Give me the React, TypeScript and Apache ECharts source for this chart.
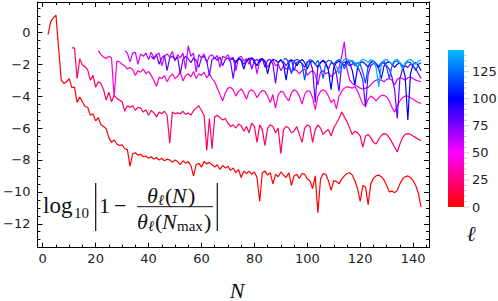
import React, { useEffect, useRef } from "react";
import * as echarts from "echarts";

// ---- data ----
const ELL_VALUES = [0, 20, 40, 60, 80, 100, 120, 140];
const START_N = [2, 11, 21, 31, 41, 71, 91, 111];

const L0 = [-0.15,0.65,0.9,1.08,-1.0,-3.0,-3.2,-3.1,-2.9,-3.45,-3.45,-4.4,-4.05,-4.35,-4.65,-4.7,-5.2,-5.1,-5.55,-5.35,-5.8,-5.9,-6.05,
-6.6,-6.9,-6.75,-7.0,-7.1,-7.05,-7.3,-7.35,-8.4,-7.6,-7.55,-7.7,-7.65,-7.8,-7.75,-7.9,-7.8,-7.95,-7.85,-8.0,-7.9,-8.05,-7.95,-8.0,-8.15,-8.0,-8.1,
-8.3,-8.05,-8.2,-8.1,-8.35,-9.0,-8.3,-8.2,-8.45,-8.1,-8.25,-8.15,-8.3,-8.45,-8.3,-8.6,-8.35,-8.5,-8.4,-8.65,-8.5,-8.8,-8.6,-9.1,-8.7,-8.85,-8.7,-8.9,-8.75,-9.1,
-10.6,-8.8,-8.7,-8.95,-8.8,-9.5,-8.9,-9.05,-8.75,-8.95,-9.1,-8.8,-9.6,-9.0,-8.9,-9.15,-8.85,-8.9,-9.2,-9.3,-9.8,-9.0,-11.3,-9.2,-8.85,-8.9,-9.3,-9.9,-9.3,-9.35,
-9.5,-9.2,-9.0,-8.85,-8.8,-8.95,-9.3,-9.8,-10.6,-9.6,-9.7,-10.8,-9.5,-9.15,-9.0,-8.95,-9.05,-9.25,-9.6,-10.0,-9.95,-10.05,-9.9,-9.5,-9.2,-9.05,-9.0,-9.1,-9.3,-9.6,
-10.1,-10.95];

const L20 = [-0.97,-0.97,-2.9,-1.65,-2.05,-2.15,-2.35,-3.0,-2.7,-3.45,-3.1,-3.2,-3.6,-4.25,-3.75,-4.35,-3.95,-4.15,-4.25,-4.35,
-4.95,-4.6,-4.7,-4.6,-4.9,-4.7,-4.75,-5.0,-4.85,-5.2,-4.9,-5.05,-5.3,-5.0,-5.1,-4.95,-5.2,-6.95,-5.0,-5.1,
-5.05,-5.1,-4.95,-5.15,-5.05,-5.2,-4.9,-4.75,-4.6,-4.9,-5.2,-7.4,-5.4,-7.3,-5.3,-5.2,-5.35,-5.5,-5.4,-5.7,
-5.9,-5.8,-6.0,-5.75,-5.85,-6.2,-5.9,-6.3,-5.7,-5.9,-6.9,-5.8,-6.1,-7.1,-6.0,-5.8,-5.9,-6.3,-6.0,-7.6,
-6.1,-5.9,-6.0,-6.3,-6.2,-5.9,-6.4,-6.9,-6.0,-5.8,-5.9,-6.9,-6.1,-5.8,-6.0,-6.4,-6.2,-6.1,-6.5,-6.0,
-5.7,-5.4,-5.0,-5.3,-5.6,-6.0,-6.4,-6.2,-6.3,-6.5,-7.2,-6.5,-6.4,-6.6,-6.9,-7.0,-6.7,-6.45,-6.35,-6.4,
-6.6,-6.9,-7.2,-7.5,-7.0,-6.6,-6.4,-6.35,-6.4,-6.5,-6.6,-6.7,-6.8];

const L40 = [-1.15,-1.4,-1.55,-1.65,-1.5,-1.6,-4.05,-1.8,-1.85,-2.0,-2.1,-2.3,-2.2,-2.35,-2.7,-2.4,-2.5,-2.3,-2.6,-2.45,
-2.7,-3.0,-3.4,-2.8,-2.9,-2.7,-3.1,-2.8,-2.6,-2.9,-2.75,-2.5,-3.05,-2.7,-2.6,-2.8,-2.45,-2.9,-2.6,-2.7,
-2.5,-2.85,-2.6,-2.9,-3.1,-3.5,-3.9,-4.3,-3.8,-3.5,-3.45,-3.6,-4.0,-3.7,-3.55,-3.8,-4.2,-3.7,-3.6,-3.75,
-4.1,-3.8,-3.65,-3.7,-4.0,-4.4,-3.9,-4.75,-3.9,-3.7,-3.75,-4.1,-4.3,-3.8,-3.6,-3.7,-4.0,-4.5,-3.9,-3.65,
-3.7,-4.1,-4.85,-4.0,-3.7,-3.6,-3.7,-4.0,-4.4,-4.2,-4.8,-4.0,-3.7,-3.5,-3.4,-3.45,-3.5,-3.4,-3.7,-4.1,
-4.5,-4.6,-4.2,-4.0,-4.1,-4.3,-4.1,-3.95,-3.95,-4.05,-4.3,-4.7,-5.0,-4.6,-4.3,-4.1,-4.0,-4.0,-4.1,-4.2,
-4.3,-4.4,-4.45];

const L60 = [-1.15,-1.3,-1.85,-1.3,-1.25,-2.0,-1.35,-1.5,-1.3,-1.7,-1.25,-1.6,-1.4,-1.3,-2.1,-1.5,-1.35,-1.55,-1.2,-1.8,
-1.4,-1.6,-1.3,-2.3,-0.85,-1.5,-1.3,-2.5,-1.4,-1.6,-1.35,-1.9,-1.5,-1.4,-1.65,-1.45,-2.2,-1.5,-1.6,-1.4,
-1.75,-1.55,-2.4,-1.6,-1.5,-1.8,-1.65,-2.0,-1.6,-1.7,-2.6,-1.8,-1.65,-1.9,-2.2,-1.9,-1.75,-2.1,-2.0,-2.4,
-2.1,-2.3,-2.2,-2.5,-2.3,-2.4,-2.6,-2.4,-2.3,-2.7,-2.5,-2.4,-2.6,-3.3,-2.5,-2.4,-2.6,-2.5,-2.8,-2.6,
-2.5,-2.2,-1.5,-0.6,-2.3,-3.0,-3.2,-3.3,-3.4,-3.5,-3.55,-3.5,-3.45,-3.3,-3.1,-3.0,-2.95,-3.0,-3.1,-2.95,
-2.9,-3.0,-3.3,-2.95,-2.85,-2.9,-3.0,-2.85,-2.8,-2.9,-3.0,-3.05,-3.1];

const L80 = [-1.5,-1.7,-1.4,-2.0,-1.6,-1.45,-2.4,-1.6,-1.5,-1.7,-1.55,-2.6,-1.7,-1.5,-1.65,-1.9,-1.6,-1.75,-2.2,-1.6,
-1.5,-1.8,-2.7,-1.7,-1.6,-1.75,-1.55,-2.1,-1.7,-1.6,-1.85,-2.9,-1.8,-1.65,-1.7,-2.0,-1.75,-1.6,-2.3,-1.8,
-1.7,-1.9,-1.65,-2.2,-1.75,-1.7,-2.0,-3.2,-1.9,-1.75,-1.85,-2.1,-1.8,-1.7,-2.4,-1.9,-1.8,-1.95,-2.2,-1.85,
-1.8,-2.3,-4.4,-2.1,-1.9,-1.8,-2.0,-2.3,-1.9,-2.0,-2.6,-3.7,-2.0,-1.85,-1.9,-2.1,-2.0,-1.9,-2.2,-2.5,
-3.0,-4.7,-2.6,-2.1,-1.95,-2.0,-2.2,-2.0,-1.9,-2.1,-2.3,-2.8,-3.6,-5.4,-2.9,-2.3,-2.1,-2.2,-2.0,-2.1,
-2.3,-2.6,-2.9];

const L100 = [-1.6,-1.7,-1.9,-1.65,-1.75,-2.3,-1.8,-1.7,-1.6,-1.85,-2.1,-1.7,-1.65,-1.8,-2.6,-1.9,-1.7,-1.75,-1.9,-1.7,
-2.0,-3.0,-1.9,-1.75,-1.8,-2.1,-1.85,-1.7,-1.9,-2.3,-1.9,-1.8,-2.0,-2.2,-1.9,-1.75,-1.9,-2.4,-3.6,-2.2,
-1.9,-1.8,-1.95,-2.1,-1.8,-1.9,-2.4,-3.3,-2.2,-1.9,-1.85,-2.0,-2.2,-1.9,-1.8,-1.95,-2.3,-2.9,-2.1,-1.9,
-1.85,-2.0,-2.2,-2.0,-1.9,-2.1,-2.8,-5.5,-2.6,-2.0,-1.9,-2.1,-2.4];

const L120 = [-1.7,-1.65,-1.9,-2.6,-1.8,-1.7,-1.75,-2.0,-3.0,-1.9,
-1.7,-1.8,-2.0,-1.75,-2.2,-2.9,-1.9,-1.75,-1.8,-2.0,-1.8,-1.7,-1.9,-2.3,-1.9,-1.75,-1.85,-2.1,-1.9,-2.0,
-2.5,-3.2,-2.1,-1.85,-1.8,-2.0,-2.1,-1.9,-1.8,-2.2,-2.9,-2.1,-1.85,-1.8,-1.95,-2.2,-2.0,-1.85,-1.9,-2.1,
-2.4,-2.0,-1.9];

const L140 = [-2.1,-2.6,-1.9,-1.7,-1.65,-1.8,-1.75,-1.9,-2.2,-1.8,-1.7,-1.75,-1.9,-1.7,-1.8,-2.2,-3.4,-2.0,-1.75,-1.7,
-1.85,-2.0,-1.75,-1.7,-1.9,-2.3,-1.9,-1.75,-1.7,-1.85,-2.0,-1.8,-1.75];

const SERIES_VALUES = [L0, L20, L40, L60, L80, L100, L120, L140];

const X_MAJOR = [0, 20, 40, 60, 80, 100, 120, 140];
const Y_MAJOR = [-12, -10, -8, -6, -4, -2, 0];
const CB_LABELS = [0, 25, 50, 75, 100, 125];

// ---- styling helpers ----
const X_MIN = -2, X_MAX = 146, Y_MIN = -13.5, Y_MAX = 1.9;
const CB_MAX = 145;
const STOPS: [number, number[]][] = [
  [0, [255, 0, 0]],
  [50, [255, 0, 255]],
  [100, [0, 0, 255]],
  [145, [0, 190, 255]],
];
function ellColor(l: number) {
  for (let i = 0; i < STOPS.length - 1; i++) {
    const [a, ca] = STOPS[i];
    const [b, cb] = STOPS[i + 1];
    if (l <= b) {
      const t = (l - a) / (b - a);
      const c = ca.map((v, k) => Math.round(v + (cb[k] - v) * t));
      return `rgb(${c[0]},${c[1]},${c[2]})`;
    }
  }
  const c = STOPS[STOPS.length - 1][1];
  return `rgb(${c[0]},${c[1]},${c[2]})`;
}
const range = (a: number, b: number, s: number) => {
  const r: number[] = [];
  for (let v = a; v <= b + 1e-9; v += s) r.push(+v.toFixed(4));
  return r;
};
const X_MINOR = range(0, 145, 5);
const Y_MINOR = range(-13.5, 1.5, 0.5);
const fmt = (v: number) => (v < 0 ? "\u2212" + Math.abs(v) : String(v));

const TICK_FONT = "DejaVu Sans";
const SERIF = "Liberation Serif";

function makeXAxis(pos: "bottom" | "top", major: boolean) {
  return {
    type: "value",
    min: X_MIN,
    max: X_MAX,
    position: pos,
    axisLine: { show: major, onZero: false, lineStyle: { color: "#000", width: 1 } },
    axisTick: {
      show: true,
      inside: true,
      length: major ? 5 : 3,
      customValues: major ? X_MAJOR : X_MINOR,
      lineStyle: { color: "#000", width: 1 },
    },
    axisLabel: {
      show: major && pos === "bottom",
      customValues: X_MAJOR,
      margin: 4,
      fontFamily: TICK_FONT,
      fontSize: 13,
      color: "#222",
      formatter: (v: number) => fmt(v),
    },
    splitLine: { show: false },
  };
}
function makeYAxis(pos: "left" | "right", major: boolean) {
  return {
    type: "value",
    min: Y_MIN,
    max: Y_MAX,
    position: pos,
    axisLine: { show: major, onZero: false, lineStyle: { color: "#000", width: 1 } },
    axisTick: {
      show: true,
      inside: true,
      length: major ? 5 : 3,
      customValues: major ? Y_MAJOR : Y_MINOR,
      lineStyle: { color: "#000", width: 1 },
    },
    axisLabel: {
      show: major && pos === "left",
      customValues: Y_MAJOR,
      margin: 7,
      fontFamily: TICK_FONT,
      fontSize: 13,
      color: "#222",
      formatter: (v: number) => fmt(v),
    },
    splitLine: { show: false },
  };
}

// colorbar geometry
const CB_X = 448, CB_TOP = 50, CB_BOTTOM = 207, CB_W = 16;
const cbY = (v: number) => CB_BOTTOM - (v / CB_MAX) * (CB_BOTTOM - CB_TOP);

type T = { t: string; x: number; y: number; s: number; it?: boolean };
const FORMULA: T[] = [
  { t: "log", x: 43, y: 205.3, s: 23 },
  { t: "10", x: 74, y: 213, s: 15 },
  { t: "1", x: 99, y: 205.3, s: 22 },
  { t: "\u2212", x: 114, y: 205.3, s: 22 },
  { t: "\u03b8", x: 147, y: 195, s: 22, it: true },
  { t: "\u2113", x: 158, y: 200, s: 15, it: true },
  { t: "(", x: 165, y: 195, s: 22 },
  { t: "N", x: 172, y: 195, s: 22, it: true },
  { t: ")", x: 188, y: 195, s: 22 },
  { t: "\u03b8", x: 137, y: 221, s: 22, it: true },
  { t: "\u2113", x: 148, y: 226, s: 15, it: true },
  { t: "(", x: 155, y: 221, s: 22 },
  { t: "N", x: 162, y: 221, s: 22, it: true },
  { t: "max", x: 177, y: 226, s: 15 },
  { t: ")", x: 204, y: 221, s: 22 },
];

export default function App() {
  const ref = useRef<HTMLDivElement>(null);
  useEffect(() => {
    if (!ref.current) return;
    const chart = echarts.init(ref.current, null, { renderer: "svg" });

    const series = SERIES_VALUES.map((vals, i) => ({
      type: "line",
      name: "l=" + ELL_VALUES[i],
      data: vals.map((v, k) => [START_N[i] + k, v]),
      showSymbol: false,
      symbol: "none",
      xAxisIndex: 0,
      yAxisIndex: 0,
      z: 2 + i,
      lineStyle: { color: ellColor(ELL_VALUES[i]), width: 1.2 },
      itemStyle: { color: ellColor(ELL_VALUES[i]) },
      silent: true,
    }));

    const graphics: any[] = [];
    graphics.push({
      type: "rect",
      shape: { x: CB_X, y: CB_TOP, width: CB_W, height: CB_BOTTOM - CB_TOP },
      style: {
        fill: new echarts.graphic.LinearGradient(0, 1, 0, 0, STOPS.map(([v, c]) => ({
          offset: v / CB_MAX,
          color: `rgb(${c[0]},${c[1]},${c[2]})`,
        }))),
      },
    });
    for (let v = 0; v <= 140; v += 5) {
      graphics.push({
        type: "line",
        shape: { x1: CB_X + CB_W, y1: cbY(v), x2: CB_X + CB_W + (v % 25 === 0 ? 5 : 3), y2: cbY(v) },
        style: { stroke: "#c8c8c8", lineWidth: 1 },
      });
    }
    CB_LABELS.forEach((v) => {
      graphics.push({
        type: "text",
        x: 472,
        y: cbY(v),
        style: { text: String(v), fontFamily: TICK_FONT, fontSize: 13, fill: "#222", align: "left", verticalAlign: "middle" },
      });
    });
    graphics.push({
      type: "text",
      x: 471,
      y: 234,
      style: { text: "\u2113", fontFamily: "DejaVu Serif", fontStyle: "italic", fontSize: 21, fill: "#111", align: "center", verticalAlign: "middle" },
    });
    graphics.push({
      type: "text",
      x: 237,
      y: 290,
      style: { text: "N", fontFamily: SERIF, fontStyle: "italic", fontSize: 22, fill: "#111", align: "center", verticalAlign: "middle" },
    });
    FORMULA.forEach((f) => {
      graphics.push({
        type: "text",
        x: f.x,
        y: f.y,
        z: 100,
        style: {
          text: f.t,
          fontFamily: SERIF,
          fontStyle: f.it ? "italic" : "normal",
          fontSize: f.s,
          fill: "#111",
          align: "left",
          verticalAlign: "middle",
        },
      });
    });
    graphics.push({ type: "line", z: 100, shape: { x1: 137, y1: 206.7, x2: 213, y2: 206.7 }, style: { stroke: "#111", lineWidth: 1 } });
    graphics.push({ type: "line", z: 100, shape: { x1: 95.7, y1: 183, x2: 95.7, y2: 231 }, style: { stroke: "#111", lineWidth: 1.2 } });
    graphics.push({ type: "line", z: 100, shape: { x1: 217.3, y1: 183, x2: 217.3, y2: 231 }, style: { stroke: "#111", lineWidth: 1.2 } });

    chart.setOption({
      animation: false,
      backgroundColor: "#fff",
      grid: { left: 33, top: 2, width: 396, height: 245.7, containLabel: false },
      xAxis: [makeXAxis("bottom", true), makeXAxis("bottom", false), makeXAxis("top", true), makeXAxis("top", false)],
      yAxis: [makeYAxis("left", true), makeYAxis("left", false), makeYAxis("right", true), makeYAxis("right", false)],
      series,
      graphic: graphics,
    });
    return () => chart.dispose();
  }, []);
  return (
    <div
      ref={ref}
      style={{ position: "fixed", left: 0, top: 0, width: 498, height: 301, background: "#fff" }}
    />
  );
}
